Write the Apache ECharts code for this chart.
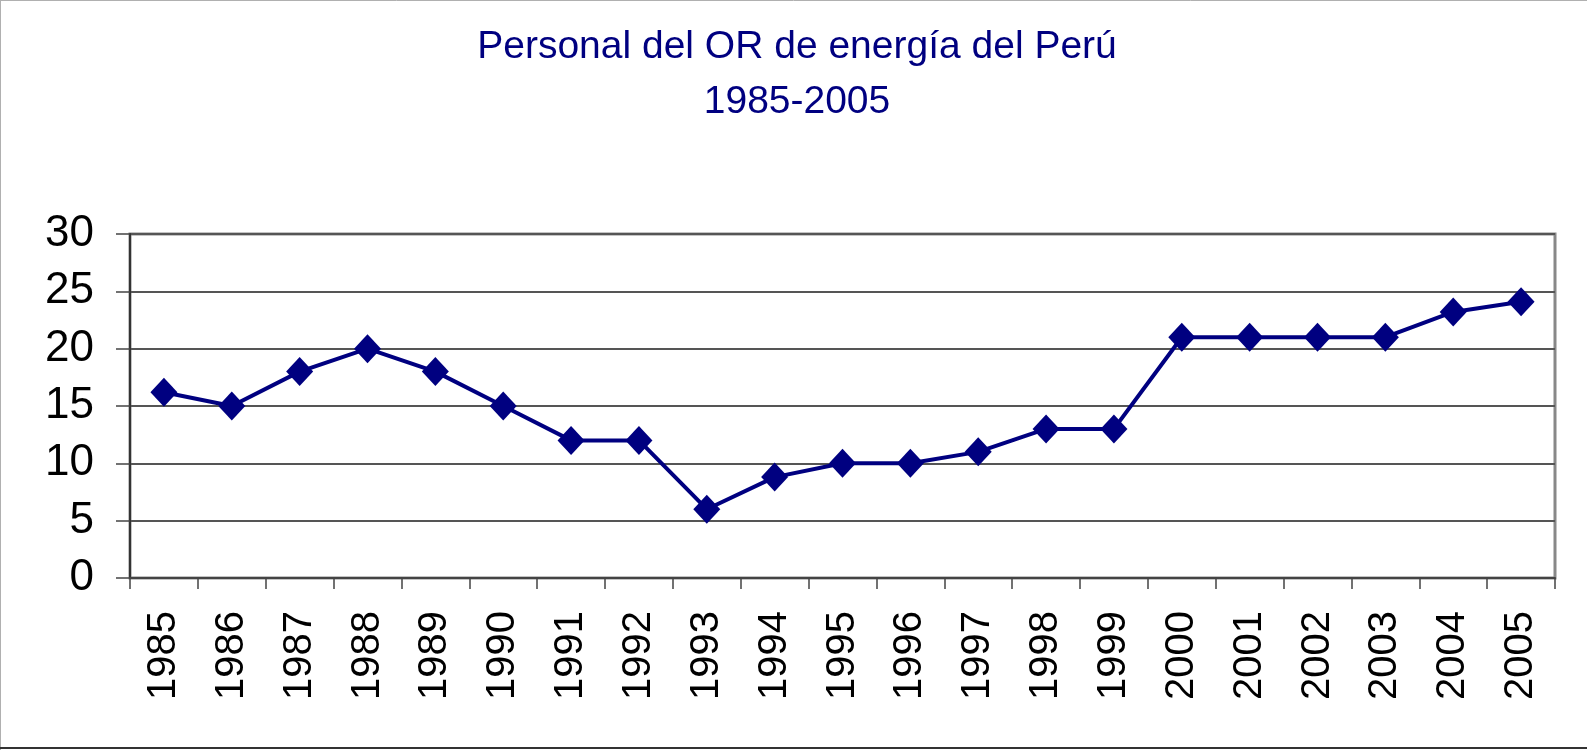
<!DOCTYPE html>
<html>
<head>
<meta charset="utf-8">
<script src="https://cdn.jsdelivr.net/npm/echarts@6/dist/echarts.min.js"></script>
<style>
html,body{margin:0;padding:0;background:#fff;}
#c{width:1587px;height:750px;}
</style>
</head>
<body>
<div id="c"></div>
<script>
var titleLine1 = 'Personal del OR de energía del Perú';
var titleLine2 = '1985-2005';
var years = ['1985','1986','1987','1988','1989','1990','1991','1992','1993','1994','1995','1996','1997','1998','1999','2000','2001','2002','2003','2004','2005'];
var personal = [16.2,15,18,20,18,15,12,12,6,8.8,10,10,11,13,13,21,21,21,21,23.2,24.1];

var chart = echarts.init(document.getElementById('c'), null, {renderer:'canvas'});
var FONT = 'Liberation Sans, Arial, sans-serif';
chart.setOption({
  animation:false,
  backgroundColor:'#fff',
  title:{
    text: titleLine1 + '\n' + titleLine2,
    left: 797, top: 20, textAlign:'center', padding:0,
    textStyle:{color:'#000080', fontSize:39, fontWeight:'normal', fontFamily:FONT, lineHeight:54.5, align:'center'}
  },
  graphic:[
    {type:'line', shape:{x1:0.5,y1:0,x2:0.5,y2:750}, style:{stroke:'#b0b0b0',lineWidth:1}},
    {type:'line', shape:{x1:0,y1:0.5,x2:1587,y2:0.5}, style:{stroke:'#b0b0b0',lineWidth:1}},
    {type:'line', shape:{x1:0,y1:748,x2:1587,y2:748}, style:{stroke:'#333',lineWidth:2}}
  ],
  grid:{left:130, right:32, top:234, bottom:172, show:true, borderColor:'#888', borderWidth:3, backgroundColor:'#fff'},
  xAxis:{
    type:'category',
    data:years,
    boundaryGap:true,
    axisLine:{lineStyle:{color:'#444', width:2}},
    axisTick:{show:true, length:11, alignWithLabel:false, lineStyle:{color:'#444', width:1.5}},
    axisLabel:{rotate:90, color:'#000', fontSize:40, fontFamily:FONT, margin:33, interval:0},
    splitLine:{show:false}
  },
  yAxis:{
    type:'value',
    min:0, max:30, interval:5,
    axisLine:{show:true, lineStyle:{color:'#333', width:2}},
    axisTick:{show:true, length:14, lineStyle:{color:'#444', width:1.5}},
    axisLabel:{color:'#000', fontSize:44, fontFamily:FONT, margin:36},
    splitLine:{show:true, lineStyle:{color:'#555', width:1.8}}
  },
  series:[{
    type:'line',
    data:personal,
    symbol:'diamond',
    symbolSize:[27,29],
    showAllSymbol:true,
    lineStyle:{color:'#000080', width:4},
    itemStyle:{color:'#000080'}
  }]
});
</script>
</body>
</html>
